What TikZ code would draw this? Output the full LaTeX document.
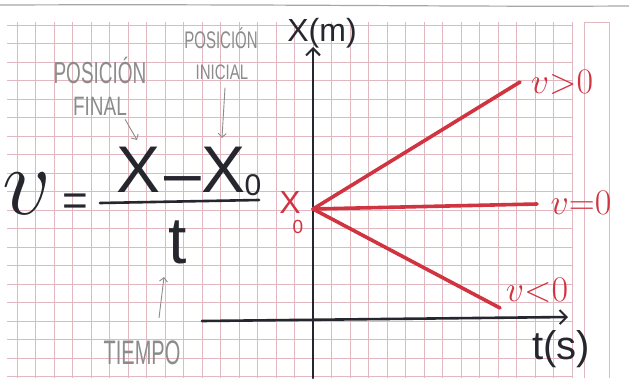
\documentclass[tikz,border=0pt]{standalone}
\usepackage{fix-cm}
\usepackage{fontspec}
\setmainfont{Liberation Sans}
\usetikzlibrary{arrows.meta}
\definecolor{ink}{RGB}{38,38,46}
\definecolor{redink}{RGB}{208,52,64}
\definecolor{gridpink}{RGB}{226,184,192}
\definecolor{pencil}{RGB}{140,140,140}
\tikzset{
  gridline/.style={draw=gridpink, line width=0.5pt},
  axisline/.style={draw=ink, line width=2.6pt, line cap=round},
  axisarrow/.style={axisline, -{Straight Barb[length=7pt,width=14pt,line width=2pt]}},
  redline/.style={draw=redink, line width=3.6pt, line cap=round},
  redlabel/.style={text=redink, inner sep=0pt, font=\fontsize{36}{36}\selectfont},
  inklabel/.style={text=ink, inner sep=0pt},
  note/.style={text=pencil, inner sep=0pt, align=center},
  notearrow/.style={draw=pencil, line width=0.9pt, -{Straight Barb[length=4pt,width=8pt]}},
}
\begin{document}
\begin{tikzpicture}[x=1pt,y=-1pt]
\useasboundingbox (0,0) rectangle (629,380);
\fill[white] (0,0) rectangle (629,380);
% scan edge
\draw[gray!70, line width=1.2pt] (0,5) .. controls (300,4) and (450,7) .. (629,6);
% grid
\foreach \k in {0,...,30} \draw[gridline] (17+18.5*\k,22) -- (17+18.5*\k,378);
\foreach \k in {0,...,19} \draw[gridline] (7,25+18.5*\k) -- (572,25+18.5*\k);
\draw[gridline] (584,378) -- (584,22) -- (609,22) -- (609,378);
% axes
\coordinate (O) at (313,209);
\coordinate (ybot) at (313,378);
\coordinate (ytop) at (313,47);
\coordinate (xleft) at (202,321);
\coordinate (xright) at (568,317);
\draw[axisarrow] (ybot) -- (ytop);
\draw[axisarrow] (xleft) -- (xright);
\node[inklabel, font=\fontsize{32}{32}\selectfont] (xlab) at (322,33) {X(m)};
\node[inklabel, font=\fontsize{40}{40}\selectfont] (tlab) at (561,349) {t(s)};
% red lines
\coordinate (pos) at (520,82);
\coordinate (zero) at (537,204);
\coordinate (neg) at (500,308);
\draw[redline] (O) -- (pos);
\draw[redline] (O) -- (zero);
\draw[redline] (O) -- (neg);
\node[redlabel] (lpos) at (562,82) {$v{>}0$};
\node[redlabel] (lzero) at (581,203) {$v{=}0$};
\node[redlabel] (lneg) at (537,290) {$v{<}0$};
\node[text=redink, inner sep=0pt, font=\fontsize{32}{32}\selectfont] (x0X) at (290,202) {X};
\node[text=redink, inner sep=0pt, font=\fontsize{19}{19}\selectfont] (x0s) at (298,227) {0};
% formula
\node[inklabel, font=\fontsize{96}{96}\selectfont] (vmain) at (27,194) {$v$};
\node[inklabel, font=\fontsize{44}{44}\selectfont] (eq) at (75,205) {=};
\node[inklabel, font=\fontsize{66}{66}\selectfont] (numX) at (139,170) {X};
\node[inklabel, font=\fontsize{66}{66}\selectfont] (minus) at (183,186) {–};
\node[inklabel, font=\fontsize{66}{66}\selectfont] (numX0) at (224,170) {X};
\node[inklabel, font=\fontsize{30}{30}\selectfont] (numsub) at (253,185) {0};
\coordinate (barL) at (100,203);
\coordinate (barR) at (259,200);
\draw[axisline] (barL) -- (barR);
\node[inklabel, font=\fontsize{66}{66}\selectfont] (tden) at (178,242) {t};
% pencil notes
\node[note, font=\fontsize{19}{19}\selectfont] (pf1) at (100,70) {\scalebox{1}[1.6]{POSICIÓN}};
\node[note, font=\fontsize{19}{19}\selectfont] (pf2) at (100,106) {\scalebox{1}[1.4]{FINAL}};
\node[note, font=\fontsize{15}{15}\selectfont] (pi1) at (221,38) {\scalebox{1}[1.6]{POSICIÓN}};
\node[note, font=\fontsize{15}{15}\selectfont] (pi2) at (222,72) {\scalebox{1}[1.4]{INICIAL}};
\node[note, font=\fontsize{20}{20}\selectfont] (tiempo) at (142,353) {\scalebox{1}[1.7]{TIEMPO}};
\coordinate (af) at (137,140);
\coordinate (ai) at (222,138);
\coordinate (at0) at (159,318);
\coordinate (at1) at (164,277);
\draw[notearrow] (pf2.south east) ++(-2,4) coordinate (af0) -- (af);
\draw[notearrow] (pi2.south) ++(3,8) coordinate (ai0) -- (ai);
\draw[notearrow] (at0) -- (at1);
\end{tikzpicture}
\end{document}
